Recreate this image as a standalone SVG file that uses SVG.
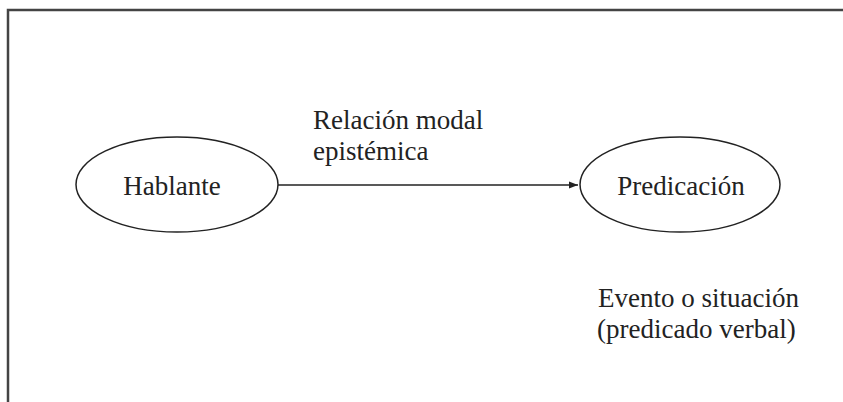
<svg xmlns="http://www.w3.org/2000/svg" width="843" height="402" viewBox="0 0 843 402">
<style>
.node{fill:#fff;stroke:#222;stroke-width:1.5}
.t{font-family:"Liberation Serif","Times New Roman",serif;font-size:27px;fill:#222}
.frame{fill:none;stroke:#444;stroke-width:2.5}
.edge{stroke:#222;stroke-width:1.5;fill:none}
</style>
<defs>
<marker id="arr" viewBox="0 0 10 10" refX="10" refY="5" markerWidth="6" markerHeight="6" orient="auto" markerUnits="strokeWidth">
<path d="M0,1 L10,5 L0,9 Z" fill="#222"/>
</marker>
</defs>
<path class="frame" d="M8,402 V10 H843"/>
<g id="connectors">
<line class="edge" x1="278" y1="185" x2="578" y2="185" marker-end="url(#arr)"/>
<text class="t" x="313" y="129">Relación modal</text>
<text class="t" x="313" y="160">epistémica</text>
</g>
<g id="hablante">
<ellipse class="node" cx="177" cy="184.5" rx="101" ry="47.5"/>
<text class="t" x="172" y="195" text-anchor="middle">Hablante</text>
</g>
<g id="predicacion">
<ellipse class="node" cx="680" cy="184.5" rx="100" ry="47.5"/>
<text class="t" x="681" y="195" text-anchor="middle">Predicación</text>
</g>
<g id="evento">
<text class="t" x="598" y="307">Evento o situación</text>
<text class="t" x="597" y="338">(predicado verbal)</text>
</g>
</svg>
